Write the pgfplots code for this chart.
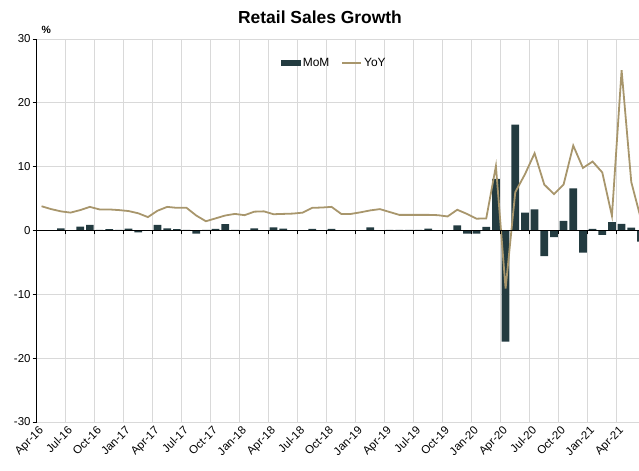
\documentclass[border=0pt]{standalone}
\usepackage{pgfplots}
\usepackage{pgfplotstable}
\pgfplotsset{compat=1.18}
\usepackage{fontspec}
\setmainfont{Liberation Sans}
\definecolor{barc}{HTML}{233B40}
\definecolor{linec}{HTML}{A8966C}
\definecolor{gridc}{HTML}{D9D9D9}

\pgfplotstableread{
i mom yoy
0 0.02 3.8
1 0.03 3.35
2 0.35 3.0
3 0.03 2.8
4 0.6 3.2
5 0.9 3.7
6 0.1 3.3
7 0.2 3.3
8 0.1 3.2
9 0.3 3.05
10 -0.3 2.7
11 0.02 2.1
12 0.9 3.1
13 0.35 3.7
14 0.2 3.55
15 0.1 3.55
16 -0.5 2.35
17 0.1 1.45
18 0.25 1.9
19 1.0 2.35
20 0.1 2.6
21 0.02 2.4
22 0.35 2.95
23 0.02 3.0
24 0.5 2.55
25 0.3 2.6
26 0.05 2.65
27 0.05 2.8
28 0.25 3.55
29 0.05 3.6
30 0.25 3.7
31 0.02 2.6
32 0.05 2.6
33 0.05 2.85
34 0.5 3.15
35 0.05 3.35
36 0.08 2.9
37 0.08 2.45
38 0.08 2.45
39 0.08 2.45
40 0.3 2.45
41 0.05 2.4
42 0.05 2.2
43 0.8 3.25
44 -0.5 2.6
45 -0.5 1.85
46 0.55 1.9
47 8.1 10.1
48 -17.4 -9.1
49 16.6 6.0
50 2.8 8.8
51 3.3 12.1
52 -4.0 7.2
53 -1.05 5.7
54 1.5 7.2
55 6.6 13.3
56 -3.45 9.8
57 0.25 10.8
58 -0.7 9.1
59 1.3 2.3
60 1.05 25.1
61 0.45 7.6
62 -1.75 1.8
}\datatable

\begin{document}
\begin{tikzpicture}
\begin{axis}[
  at={(0,0)}, anchor=south west,
  scale only axis, width=602.3bp, height=383bp,
  xmin=-0.5, xmax=61.8, ymin=-30, ymax=30,
  ytick={-30,-20,...,30},
  xtick={-0.5,2.5,...,59.5},
  xticklabels={Apr-16,Jul-16,Oct-16,Jan-17,Apr-17,Jul-17,Oct-17,Jan-18,Apr-18,Jul-18,Oct-18,Jan-19,Apr-19,Jul-19,Oct-19,Jan-20,Apr-20,Jul-20,Oct-20,Jan-21,Apr-21},
  x tick label style={rotate=45, anchor=north east, font=\fontsize{11.5}{12}\selectfont, inner sep=0.5pt, xshift=2bp},
  y tick label style={font=\fontsize{11.5}{12}\selectfont, inner sep=2pt},
  /pgf/number format/assume math mode=true,
  grid=major, major grid style={gridc, line width=0.8pt},
  axis x line*=bottom, axis y line*=left,
  x axis line style={draw=none},
  y axis line style={black, line width=0.8pt},
  xtick style={draw=none},
  ytick style={black, line width=0.8pt},
  tick align=outside, major tick length=4bp,
  legend style={at={(0.494,0.937)}, anchor=center, draw=none, fill=none,
    legend columns=2, font=\fontsize{12}{13}\selectfont,
    /tikz/every even column/.append style={column sep=10bp}},
  legend cell align=left,
]
\addplot[ybar, bar width=0.8, fill=barc, draw=none,
  legend image code/.code={\fill[barc] (0bp,-3bp) rectangle (20bp,3bp);}]
  table[x=i, y=mom]{\datatable};
\addlegendentry{MoM}
\addplot[linec, line width=1.8pt, no marks,
  legend image code/.code={\draw[linec, line width=1.8pt] (0bp,0bp) -- (19bp,0bp);}]
  table[x=i, y=yoy]{\datatable};
\addlegendentry{YoY}
\end{axis}
\begin{axis}[
  at={(0,0)}, anchor=south west,
  scale only axis, width=602.3bp, height=383bp,
  xmin=-0.5, xmax=61.8, ymin=-30, ymax=30,
  axis x line=middle, axis y line=none,
  xtick={-0.5,2.5,...,59.5}, xticklabels={},
  tick align=outside, major tick length=4bp,
  x axis line style={-, black, line width=0.9pt},
  xtick style={black, line width=0.8pt},
]
\end{axis}
\node[font=\bfseries\fontsize{17.5}{20}\selectfont] at (283.3bp,405bp) {Retail Sales Growth};
\node[font=\bfseries\fontsize{10.5}{12}\selectfont] at (9.5bp,392bp) {\%};
\pgfresetboundingbox
\useasboundingbox (-36.7bp,-49bp) rectangle (602.3bp,422bp);
\end{tikzpicture}
\end{document}
